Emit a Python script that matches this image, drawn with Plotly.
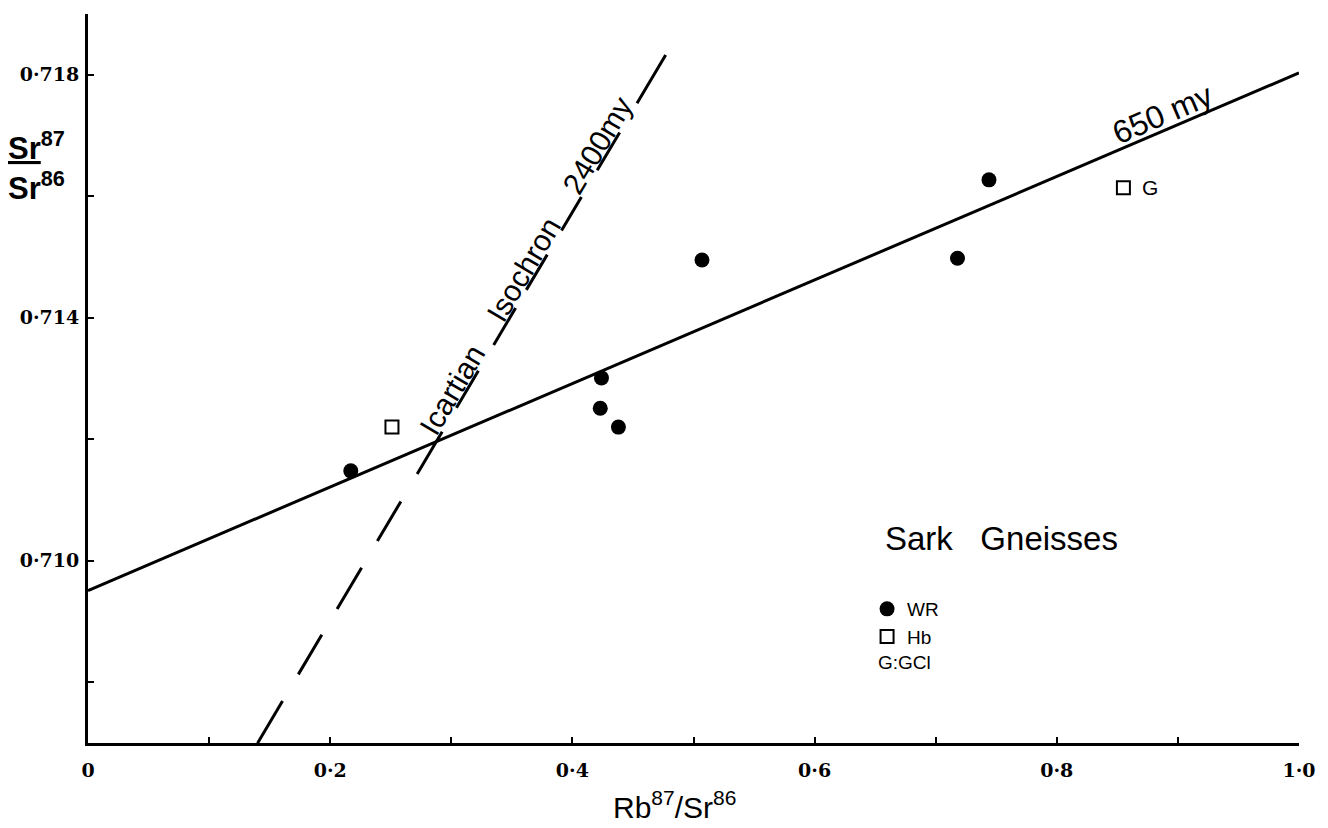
import plotly.graph_objects as go

# ---------------- data ----------------
wr_x = [0.217, 0.424, 0.423, 0.438, 0.507, 0.718, 0.744]
wr_y = [0.71148, 0.71301, 0.71251, 0.71220, 0.71495, 0.71498, 0.71627]

hb_x = [0.251, 0.855]
hb_y = [0.71220, 0.71614]
hb_point_labels = ["", "G"]

# 650 my isochron (solid)
iso650_intercept = 0.70951
iso650_slope = 0.00852
iso650_x = [0.0, 1.0]

# Icartian isochron 2400 my (dashed)
iso2400_intercept = 0.70229
iso2400_slope = 0.03362
iso2400_x = [0.140, 0.477]

x_tickvals = [0.0, 0.2, 0.4, 0.6, 0.8, 1.0]
x_ticktext = ["0", "0·2", "0·4", "0·6", "0·8", "1·0"]
x_minor_tickvals = [0.1, 0.3, 0.5, 0.7, 0.9]
y_tickvals = [0.710, 0.714, 0.718]
y_ticktext = ["0·710", "0·714", "0·718"]
y_minor_tickvals = [0.708, 0.712, 0.716]

label650_x = 0.887
label2400_x = 0.374

# --------------------------------------------------------------
iso650_y = [iso650_intercept + iso650_slope * v for v in iso650_x]
iso2400_y = [iso2400_intercept + iso2400_slope * v for v in iso2400_x]

SANS = "Liberation Sans"
NB = "\u00a0"
fig = go.Figure()

fig.add_trace(go.Scatter(
    x=iso650_x, y=iso650_y, mode="lines",
    line=dict(color="black", width=3), showlegend=False, hoverinfo="skip"))

fig.add_trace(go.Scatter(
    x=iso2400_x, y=iso2400_y, mode="lines",
    line=dict(color="black", width=3,
              dash="49px,31px,46px,30px,48px,31px,46px,32px,49px,28px,43px,30px,43px,21px,41px,28px,39px,31px,44px,34px,60px"),
    showlegend=False, hoverinfo="skip"))

fig.add_trace(go.Scatter(
    x=wr_x, y=wr_y, mode="markers", name="WR",
    marker=dict(symbol="circle", size=15, color="black")))

fig.add_trace(go.Scatter(
    x=hb_x, y=hb_y, mode="markers", name="Hb",
    marker=dict(symbol="square-open", size=13, color="black",
                line=dict(width=2, color="black"))))

annotations = []
# labels along the isochrons
annotations.append(dict(
    x=label650_x, y=iso650_intercept + iso650_slope * label650_x,
    xref="x", yref="y", text="650 my", showarrow=False,
    textangle=-23.2, yshift=17,
    font=dict(family=SANS, size=32, color="black")))
annotations.append(dict(
    x=label2400_x, y=iso2400_intercept + iso2400_slope * label2400_x,
    xref="x", yref="y",
    text="Icartian" + NB * 4 + "Isochron" + NB * 4 + "2400my",
    showarrow=False, textangle=-59.3, xshift=-15,
    font=dict(family=SANS, size=30, color="black")))
# point label G
for xv, yv, t in zip(hb_x, hb_y, hb_point_labels):
    if t:
        annotations.append(dict(
            x=xv, y=yv, xref="x", yref="y", text=t, showarrow=False,
            xanchor="left", xshift=17,
            font=dict(family=SANS, size=21, color="black")))
# key title and note
annotations.append(dict(
    x=(885 - 88) / 1214, y=(743 - 538) / 729, xref="paper", yref="paper",
    xanchor="left", yanchor="middle", showarrow=False,
    text="Sark" + NB * 3 + "Gneisses",
    font=dict(family=SANS, size=33, color="black")))
annotations.append(dict(
    x=(878 - 88) / 1214, y=(743 - 662) / 729, xref="paper", yref="paper",
    xanchor="left", yanchor="middle", showarrow=False,
    text="G:GCl", font=dict(family=SANS, size=19, color="black")))
# axis titles
annotations.append(dict(
    x=(676 - 88) / 1214, y=(743 - 805) / 729, xref="paper", yref="paper",
    xanchor="center", yanchor="middle", showarrow=False,
    text="Rb<sup>87</sup>/Sr<sup>86</sup>",
    font=dict(family=SANS, size=30, color="black")))
annotations.append(dict(
    x=(6 - 88) / 1214, y=(743 - 166) / 729, xref="paper", yref="paper",
    xanchor="left", yanchor="middle", showarrow=False, align="left",
    text="<b><u>Sr</u><sup>87</sup><br>Sr<sup>86</sup></b>",
    font=dict(family=SANS, size=31, color="black")))

fig.update_layout(
    width=1328, height=828,
    margin=dict(l=88, r=26, t=14, b=85),
    paper_bgcolor="white", plot_bgcolor="white",
    annotations=annotations,
    showlegend=True,
    legend=dict(x=(869 - 88) / 1214, y=(743 - 590) / 729,
                xanchor="left", yanchor="top",
                font=dict(family=SANS, size=19, color="black"),
                bgcolor="rgba(0,0,0,0)", itemwidth=30, tracegroupgap=0),
)

fig.update_xaxes(
    range=[0, 1.0], showgrid=False, zeroline=False,
    showline=True, linecolor="black", linewidth=3,
    ticks="inside", ticklen=6, tickwidth=2, tickcolor="black",
    tickvals=x_tickvals, ticktext=x_ticktext, ticklabelstandoff=8,
    minor=dict(tickvals=x_minor_tickvals, ticks="inside", ticklen=6,
               tickwidth=2, tickcolor="black", showgrid=False),
    tickfont=dict(family="DejaVu Serif", size=19, color="black", weight="bold"))
fig.update_yaxes(
    range=[0.707, 0.719], showgrid=False, zeroline=False,
    showline=True, linecolor="black", linewidth=3,
    ticks="inside", ticklen=6, tickwidth=2, tickcolor="black",
    tickvals=y_tickvals, ticktext=y_ticktext, ticklabelstandoff=2,
    minor=dict(tickvals=y_minor_tickvals, ticks="inside", ticklen=6,
               tickwidth=2, tickcolor="black", showgrid=False),
    tickfont=dict(family="DejaVu Serif", size=19, color="black", weight="bold"))

fig.write_html("out.html", config={"displayModeBar": False},
               post_script="document.body.style.margin='0';")
